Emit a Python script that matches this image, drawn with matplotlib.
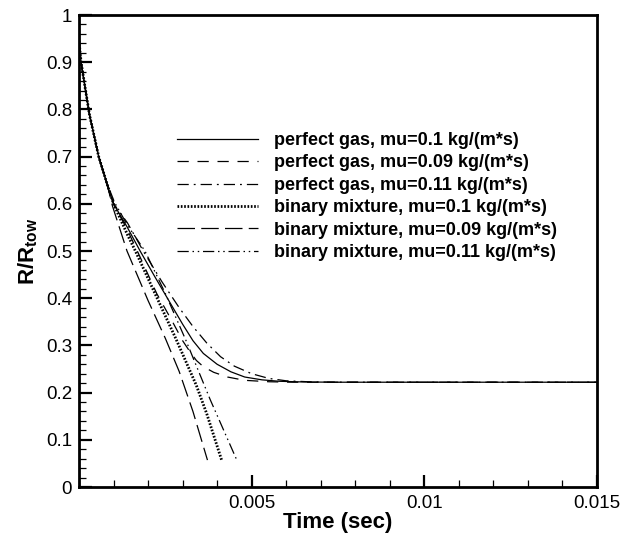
import matplotlib
matplotlib.use("Agg")
import matplotlib.pyplot as plt
from matplotlib.ticker import MultipleLocator, FixedLocator, FuncFormatter

plt.rcParams['font.family'] = ['Liberation Sans', 'DejaVu Sans']
plt.rcParams['mathtext.fontset'] = 'custom'
plt.rcParams['mathtext.rm'] = 'Liberation Sans'
plt.rcParams['mathtext.bf'] = 'Liberation Sans:bold'

# ---- data (time in s, R/R_tow) ----
t_start = [0.0, 0.00006, 0.0003, 0.00057, 0.0008, 0.001]
r_start = [0.945, 0.90, 0.79, 0.70, 0.645, 0.60]

pg_010_t = t_start + [0.0014, 0.00177, 0.0022, 0.0026, 0.0030, 0.0033, 0.0036, 0.0040,
                      0.0044, 0.0048, 0.0053, 0.0058, 0.0065, 0.0075, 0.015]
pg_010_r = r_start + [0.55, 0.50, 0.445, 0.395, 0.345, 0.31, 0.283, 0.260,
                      0.244, 0.233, 0.227, 0.224, 0.2225, 0.222, 0.222]

pg_009_t = t_start + [0.0014, 0.00172, 0.00225, 0.00273, 0.0030, 0.0032, 0.0034, 0.0036,
                      0.0039, 0.0043, 0.0048, 0.0055, 0.0062, 0.015]
pg_009_r = r_start + [0.545, 0.495, 0.41, 0.347, 0.31, 0.288, 0.268, 0.255,
                      0.243, 0.233, 0.226, 0.223, 0.222, 0.222]

pg_011_t = t_start + [0.0014, 0.00186, 0.0024, 0.0029, 0.0033, 0.0037, 0.0041, 0.0045,
                      0.0050, 0.0055, 0.0060, 0.0068, 0.0078, 0.015]
pg_011_r = r_start + [0.56, 0.50, 0.435, 0.38, 0.34, 0.305, 0.276, 0.256,
                      0.240, 0.230, 0.225, 0.2225, 0.222, 0.222]

bm_010_t = t_start + [0.0014, 0.00162, 0.0022, 0.0028, 0.0034, 0.0037, 0.00413]
bm_010_r = r_start + [0.535, 0.502, 0.41, 0.315, 0.215, 0.155, 0.057]

bm_009_t = t_start[:5] + [0.00097, 0.00139, 0.0020, 0.0025, 0.0029, 0.0033, 0.00372]
bm_009_r = r_start[:5] + [0.595, 0.50, 0.395, 0.315, 0.245, 0.160, 0.057]

bm_011_t = t_start[:5] + [0.00103, 0.0014, 0.00191, 0.0025, 0.0031, 0.0038, 0.00457]
bm_011_r = r_start[:5] + [0.603, 0.555, 0.50, 0.41, 0.31, 0.185, 0.057]

labels = ["perfect gas, mu=0.1 kg/(m*s)",
          "perfect gas, mu=0.09 kg/(m*s)",
          "perfect gas, mu=0.11 kg/(m*s)",
          "binary mixture, mu=0.1 kg/(m*s)",
          "binary mixture, mu=0.09 kg/(m*s)",
          "binary mixture, mu=0.11 kg/(m*s)"]

x_major = [0.005, 0.01, 0.015]
y_major = [0, 0.1, 0.2, 0.3, 0.4, 0.5, 0.6, 0.7, 0.8, 0.9, 1.0]

fig = plt.figure(figsize=(6.22, 5.34), dpi=100)
ax = fig.add_axes([79/622, 1-487/534, (597-79)/622, (487-15)/534])

ax.plot(pg_010_t, pg_010_r, color='black', lw=0.9, ls='-', label=labels[0])
ax.plot(pg_009_t, pg_009_r, color='black', lw=0.9, ls=(0, (9, 7)), label=labels[1])
ax.plot(pg_011_t, pg_011_r, color='black', lw=0.9, ls=(0, (9, 4, 1.5, 4)), label=labels[2])
ax.plot(bm_010_t, bm_010_r, color='black', lw=2.0, ls=(0, (0.6, 0.6)), label=labels[3])
ax.plot(bm_009_t, bm_009_r, color='black', lw=0.9, ls=(0, (14, 5)), label=labels[4])
ax.plot(bm_011_t, bm_011_r, color='black', lw=0.9, ls=(0, (9, 3, 1.2, 3, 1.2, 3)), label=labels[5])

ax.set_xlim(0, 0.015)
ax.set_ylim(0, 1)
ax.xaxis.set_major_locator(FixedLocator(x_major))
ax.xaxis.set_minor_locator(MultipleLocator(0.001))
ax.yaxis.set_major_locator(FixedLocator(y_major))
ax.yaxis.set_minor_locator(MultipleLocator(0.02))
ax.xaxis.set_major_formatter(FuncFormatter(lambda v, p: f"{v:g}"))
ax.yaxis.set_major_formatter(FuncFormatter(lambda v, p: f"{v:g}"))

ax.tick_params(which='both', direction='in', top=False, right=False, labelsize=13.5)
ax.tick_params(which='major', length=9, width=1.6)
ax.tick_params(which='minor', length=5, width=0.9)
ax.tick_params(axis='x', pad=6)
ax.tick_params(axis='y', pad=5)
for s in ax.spines.values():
    s.set_linewidth(2.0)

ax.set_xlabel("Time (sec)", fontsize=16, fontweight='bold', labelpad=0)
ax.set_ylabel(r"$\mathbf{R/R}_{\mathbf{tow}}$", fontsize=16, labelpad=4)

leg = ax.legend(loc='upper left', bbox_to_anchor=((177-79)/518, (487-132)/472),
                frameon=False, prop={'weight': 'bold', 'size': 13},
                handlelength=4.5, handletextpad=0.89, labelspacing=0.30,
                borderpad=0, borderaxespad=0)

fig.savefig("out.png", dpi=100)
